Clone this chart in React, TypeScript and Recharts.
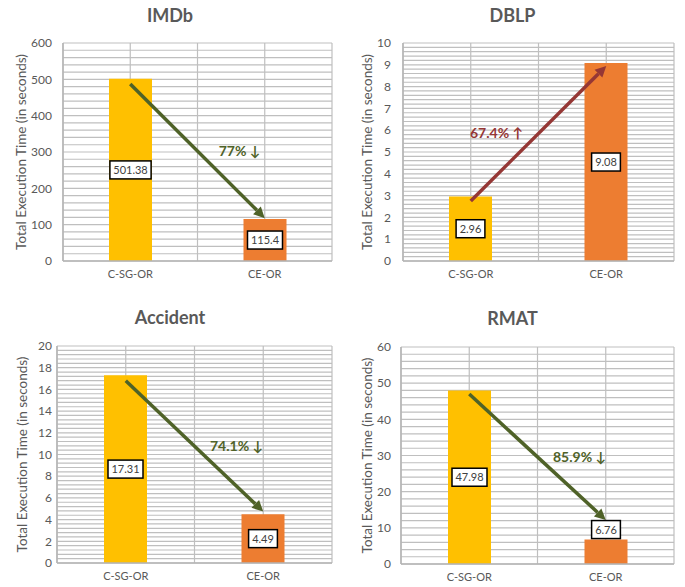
import React from "react";
import {
  BarChart,
  Bar,
  Cell,
  XAxis,
  YAxis,
  CartesianGrid,
  LabelList,
  ReferenceLine,
} from "recharts";

const categories = ["C-SG-OR", "CE-OR"];
const barColors = ["#FFC000", "#ED7D31"];

const imdbValues = [501.38, 115.4];
const dblpValues = [2.96, 9.08];
const accidentValues = [17.31, 4.49];
const rmatValues = [47.98, 6.76];

const imdbTicks = [0, 100, 200, 300, 400, 500, 600];
const dblpTicks = [0, 1, 2, 3, 4, 5, 6, 7, 8, 9, 10];
const accidentTicks = [0, 2, 4, 6, 8, 10, 12, 14, 16, 18, 20];
const rmatTicks = [0, 10, 20, 30, 40, 50, 60];

// arrow start / end values
const imdbArrow = [487, 118];
const dblpArrow = [2.75, 8.95];
const accidentArrow = [16.8, 4.75];
const rmatArrow = [47, 12.2];

const imdbChange = "77% ↓";
const dblpChange = "67.4% ↑";
const accidentChange = "74.1% ↓";
const rmatChange = "85.9% ↓";

const FONT = "Lato, 'Open Sans', sans-serif";
const TEXT = "#595959";
const GRID = "#bfbfbf";
const GREEN = "#4F6228";
const RED = "#953735";

const toRows = (values: number[]) =>
  categories.map((c, i) => ({ name: c, value: values[i] }));

function ValueBox(props: any) {
  const { x, y, width, height, value } = props;
  const txt = String(value);
  const w = txt.length * 6.2 + 4;
  const h = 18;
  const cx = x + width / 2;
  // small bars get their label sitting on top
  const cy = height < 30 ? y - h / 2 - 1 : y + height / 2;
  return (
    <g>
      <rect x={cx - w / 2} y={cy - h / 2} width={w} height={h} fill="#fff" stroke="#000" strokeWidth={1.5} />
      <text x={cx} y={cy + 4} textAnchor="middle" fontSize={11} fontFamily={FONT} fill="#404040">
        {txt}
      </text>
    </g>
  );
}

function makeArrow(color: string, text: string, side: number) {
  return (p: any) => {
    const { x1, y1, x2, y2 } = p;
    const dx = x2 - x1;
    const dy = y2 - y1;
    const len = Math.sqrt(dx * dx + dy * dy);
    const ux = dx / len;
    const uy = dy / len;
    const head = 11;
    const half = 5.5;
    const bx = x2 - ux * head;
    const by = y2 - uy * head;
    const mx = (x1 + x2) / 2;
    const my = (y1 + y2) / 2;
    return (
      <g>
        <line x1={x1} y1={y1} x2={bx} y2={by} stroke={color} strokeWidth={3.5} />
        <polygon
          points={`${x2},${y2} ${bx - uy * half},${by + ux * half} ${bx + uy * half},${by - ux * half}`}
          fill={color}
        />
        <text
          x={mx + side * 42}
          y={my + 5}
          textAnchor="middle"
          fontSize={14}
          fontWeight="bold"
          fontFamily={FONT}
          fill={color}
        >
          {text}
        </text>
      </g>
    );
  };
}

interface PanelProps {
  title: string;
  values: number[];
  ticks: number[];
  arrow: number[];
  change: string;
  color: string;
  side: number;
  left: number;
  top: number;
  width: number;
  height: number;
  margin: { top: number; right: number; bottom: number; left: number };
  xHeight: number;
  yWidth: number;
  yGap: number;
  labelX: number;
  titleY: number;
}

function Panel(p: PanelProps) {
  const max = p.ticks[p.ticks.length - 1];
  const minorCount = (p.ticks.length - 1) * 5;
  return (
    <div style={{ position: "absolute", left: p.left, top: p.top, width: p.width, height: p.height }}>
      <div
        style={{
          position: "absolute",
          left: 0,
          top: p.titleY - 11,
          width: p.width,
          textAlign: "center",
          fontFamily: FONT,
          fontWeight: "bold",
          fontSize: 18,
          lineHeight: "22px",
          color: TEXT,
        }}
      >
        {p.title}
      </div>
      <BarChart width={p.width} height={p.height} data={toRows(p.values)} margin={p.margin}>
        <CartesianGrid
          stroke={GRID}
          strokeWidth={1.2}
          horizontalCoordinatesGenerator={({ offset }: any) =>
            Array.from({ length: minorCount + 1 }, (_, k) => offset.top + (offset.height * k) / minorCount)
          }
          verticalCoordinatesGenerator={({ offset }: any) =>
            [0, 1, 2, 3, 4].map((k) => offset.left + (offset.width * k) / 4)
          }
        />
        <XAxis
          dataKey="name"
          height={p.xHeight}
          tickLine={false}
          tickSize={0}
          tickMargin={9}
          axisLine={{ stroke: "#b5b5b5", strokeWidth: 1.5 }}
          tick={{ fontSize: 11, fontFamily: FONT, fill: TEXT }}
        />
        <YAxis
          domain={[0, max]}
          ticks={p.ticks}
          interval={0}
          width={p.yWidth}
          axisLine={{ stroke: "#b5b5b5", strokeWidth: 1.5 }}
          tickLine={false}
          tickSize={0}
          tickMargin={p.yGap}
          tick={{ fontSize: 12, fontFamily: FONT, fill: TEXT }}
          label={{
            content: ({ viewBox }: any) => {
              const cx = p.labelX;
              const cy = viewBox.y + viewBox.height / 2;
              return (
                <text
                  x={cx}
                  y={cy}
                  transform={`rotate(-90, ${cx}, ${cy})`}
                  textAnchor="middle"
                  dominantBaseline="central"
                  fontSize={13.5}
                  fontFamily={FONT}
                  fill={TEXT}
                >
                  Total Execution Time (in seconds)
                </text>
              );
            },
          }}
        />
        <Bar dataKey="value" barSize={43} isAnimationActive={false}>
          {categories.map((c, i) => (
            <Cell key={c} fill={barColors[i]} />
          ))}
          <LabelList dataKey="value" content={ValueBox} />
        </Bar>
        <ReferenceLine
          segment={[
            { x: categories[0], y: p.arrow[0] },
            { x: categories[1], y: p.arrow[1] },
          ]}
          shape={makeArrow(p.color, p.change, p.side)}
        />
      </BarChart>
    </div>
  );
}

export default function App() {
  return (
    <div style={{ position: "absolute", left: 0, top: 0, width: 685, height: 587, background: "#fff" }}>
      <Panel
        title="IMDb"
        values={imdbValues}
        ticks={imdbTicks}
        arrow={imdbArrow}
        change={imdbChange}
        color={GREEN}
        side={1}
        left={0}
        top={0}
        width={340}
        height={290}
        margin={{ top: 43, right: 8, bottom: 0, left: 0 }}
        xHeight={29}
        yWidth={63}
        yGap={11}
        labelX={21}
        titleY={15}
      />
      <Panel
        title="DBLP"
        values={dblpValues}
        ticks={dblpTicks}
        arrow={dblpArrow}
        change={dblpChange}
        color={RED}
        side={-1}
        left={340}
        top={0}
        width={345}
        height={290}
        margin={{ top: 43, right: 11, bottom: 0, left: 0 }}
        xHeight={29}
        yWidth={63}
        yGap={12}
        labelX={27}
        titleY={15}
      />
      <Panel
        title="Accident"
        values={accidentValues}
        ticks={accidentTicks}
        arrow={accidentArrow}
        change={accidentChange}
        color={GREEN}
        side={1}
        left={0}
        top={300}
        width={340}
        height={287}
        margin={{ top: 46, right: 8, bottom: 0, left: 0 }}
        xHeight={24}
        yWidth={57}
        yGap={5}
        labelX={22}
        titleY={17}
      />
      <Panel
        title="RMAT"
        values={rmatValues}
        ticks={rmatTicks}
        arrow={rmatArrow}
        change={rmatChange}
        color={GREEN}
        side={1}
        left={340}
        top={300}
        width={345}
        height={287}
        margin={{ top: 47, right: 11, bottom: 0, left: 0 }}
        xHeight={23}
        yWidth={61}
        yGap={10}
        labelX={27}
        titleY={18}
      />
    </div>
  );
}
